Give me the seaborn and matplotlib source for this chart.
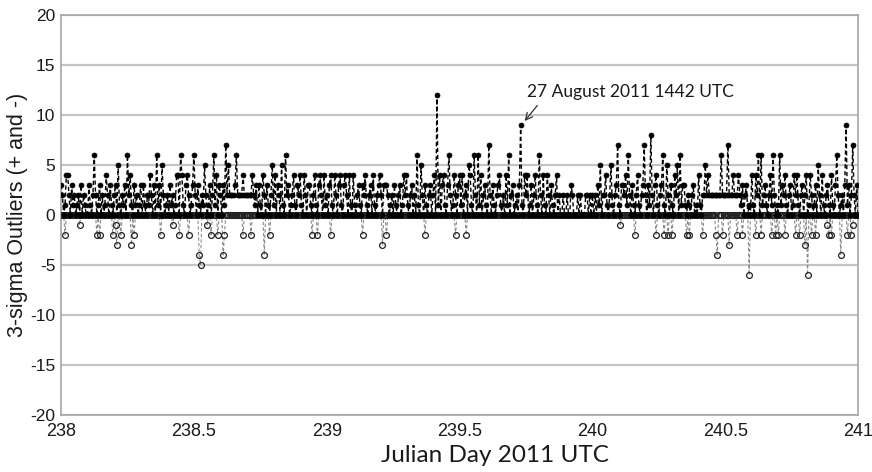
import numpy as np
import pandas as pd
import matplotlib
matplotlib.use("Agg")
import matplotlib.pyplot as plt
import seaborn as sns

# ---- data: 3-sigma outlier counts sampled every 0.005 day (238.000 .. 241.000) ----
day_start = 238.0
day_end = 241.0

pos = [
    3, 2, 0, 1, 4, 4, 2, 0, 3, 1, 2, 0, 1, 2, 0, 3, 0, 2, 1, 0,
    0, 3, 1, 0, 2, 6, 2, 0, 1, 3, 0, 2, 0, 1, 4, 2, 0, 3, 1, 0,
    2, 3, 0, 5, 1, 0, 2, 1, 3, 0, 6, 2, 4, 1, 0, 3, 1, 2, 0, 1,
    3, 0, 3, 1, 0, 2, 1, 4, 2, 0, 3, 0, 6, 1, 3, 0, 5, 2, 0, 1,
    2, 0, 3, 1, 2, 0, 1, 4, 4, 0, 6, 4, 1, 0, 3, 4, 2, 0, 1, 3,
    6, 2, 0, 3, 1, 0, 2, 1, 5, 2, 0, 1, 3, 0, 2, 6, 1, 4, 0, 3,
    2, 0, 3, 1, 7, 2, 5, 2, 2, 2, 2, 3, 6, 2, 2, 2, 2, 4, 2, 2,
    2, 2, 2, 2, 4, 2, 1, 3, 0, 3, 1, 0, 4, 2, 0, 3, 1, 0, 2, 5,
    1, 4, 0, 3, 2, 0, 5, 1, 0, 6, 2, 3, 0, 1, 2, 4, 1, 0, 3, 2,
    4, 1, 0, 4, 2, 0, 3, 3, 1, 0, 2, 4, 1, 0, 3, 4, 2, 0, 4, 1,
    2, 0, 3, 4, 1, 0, 4, 2, 0, 3, 4, 1, 0, 3, 4, 2, 0, 4, 1, 0,
    4, 1, 0, 2, 3, 1, 0, 3, 2, 4, 1, 0, 2, 3, 0, 4, 1, 0, 2, 3,
    4, 2, 0, 3, 3, 3, 2, 0, 1, 2, 0, 3, 1, 0, 2, 3, 0, 1, 4, 2,
    4, 1, 0, 2, 3, 0, 2, 0, 6, 1, 0, 5, 2, 0, 3, 1, 0, 2, 3, 0,
    2, 4, 0, 12, 1, 4, 0, 3, 4, 1, 0, 3, 6, 2, 0, 1, 4, 2, 0, 3,
    4, 1, 4, 0, 2, 3, 0, 5, 4, 1, 0, 6, 2, 0, 6, 1, 4, 0, 2, 3,
    1, 0, 7, 2, 0, 3, 1, 0, 2, 3, 4, 1, 0, 2, 0, 4, 1, 6, 0, 2,
    3, 0, 1, 2, 0, 3, 9, 1, 0, 4, 2, 4, 0, 1, 3, 0, 2, 4, 1, 0,
    6, 2, 0, 4, 1, 0, 4, 2, 0, 3, 1, 0, 2, 4, 0, 2, 0, 0, 2, 0,
    0, 2, 0, 0, 3, 2, 0, 0, 0, 2, 0, 2, 0, 0, 0, 2, 2, 0, 2, 0,
    2, 0, 2, 0, 3, 1, 5, 0, 2, 2, 4, 1, 0, 2, 5, 1, 0, 2, 3, 7,
    1, 0, 3, 3, 2, 4, 1, 6, 2, 0, 3, 1, 0, 2, 4, 1, 0, 2, 3, 7,
    2, 0, 3, 1, 8, 2, 0, 3, 4, 1, 0, 2, 3, 6, 1, 0, 5, 2, 0, 3,
    1, 0, 4, 2, 5, 0, 6, 1, 3, 3, 1, 0, 2, 1, 0, 2, 3, 0, 1, 0,
    4, 1, 0, 2, 2, 5, 2, 4, 2, 2, 2, 2, 2, 2, 2, 2, 2, 6, 2, 2,
    2, 2, 7, 2, 2, 2, 4, 2, 2, 2, 4, 2, 1, 3, 0, 2, 3, 0, 1, 0,
    4, 1, 0, 4, 2, 6, 0, 6, 1, 2, 3, 1, 0, 2, 4, 1, 6, 2, 0, 1,
    0, 6, 1, 3, 2, 4, 1, 0, 2, 3, 0, 1, 4, 2, 4, 1, 0, 2, 3, 0,
    2, 4, 0, 1, 4, 2, 0, 1, 3, 0, 5, 2, 0, 4, 1, 0, 2, 3, 1, 0,
    4, 1, 0, 3, 6, 2, 0, 1, 2, 0, 3, 9, 1, 3, 0, 2, 7, 2, 0, 3,
    0,
]

neg = [
    0, 0, 0, -2, 0, 0, 0, 0, 0, 0, 0, 0, 0, 0, -1, 0, 0, 0, 0, 0,
    0, 0, 0, 0, 0, 0, 0, -2, 0, -2, 0, 0, 0, 0, 0, 0, 0, 0, 0, -2,
    0, -1, -3, 0, 0, -2, 0, 0, 0, 0, 0, 0, 0, -3, 0, -2, 0, 0, 0, 0,
    0, 0, 0, 0, 0, 0, 0, 0, 0, 0, 0, 0, 0, 0, 0, -2, 0, 0, 0, 0,
    0, 0, 0, 0, -1, 0, 0, 0, 0, -2, 0, 0, 0, 0, 0, 0, -2, 0, 0, 0,
    0, 0, 0, 0, -4, -5, 0, 0, 0, 0, -1, 0, 0, -2, 0, 0, 0, 0, -2, 0,
    0, 0, -4, -2, 0, 0, 0, 0, 0, 0, 0, 0, 0, 0, 0, 0, 0, -2, 0, 0,
    0, 0, 0, -2, 0, 0, 0, 0, 0, 0, 0, 0, 0, -4, 0, 0, 0, -2, 0, 0,
    0, 0, 0, 0, 0, 0, 0, 0, 0, 0, 0, 0, 0, 0, 0, 0, 0, 0, 0, 0,
    0, 0, 0, 0, 0, 0, 0, 0, 0, -2, 0, 0, 0, -2, 0, 0, 0, 0, 0, 0,
    0, 0, 0, -2, 0, 0, 0, 0, 0, 0, 0, 0, 0, 0, 0, 0, 0, 0, 0, 0,
    0, 0, 0, 0, 0, 0, 0, -2, 0, 0, 0, 0, 0, 0, 0, 0, 0, 0, 0, 0,
    0, 0, -3, 0, 0, -2, 0, 0, 0, 0, 0, 0, 0, 0, 0, 0, 0, 0, 0, 0,
    0, 0, 0, 0, 0, 0, 0, 0, 0, 0, 0, 0, 0, 0, -2, 0, 0, 0, 0, 0,
    0, 0, 0, 0, 0, 0, 0, 0, 0, 0, 0, 0, 0, 0, 0, 0, 0, -2, 0, 0,
    0, 0, 0, 0, 0, -2, 0, 0, 0, 0, 0, 0, 0, 0, 0, 0, 0, 0, 0, 0,
    0, 0, 0, 0, 0, 0, 0, 0, 0, 0, 0, 0, 0, 0, 0, 0, 0, 0, 0, 0,
    0, 0, 0, 0, 0, 0, 0, 0, 0, 0, 0, 0, 0, 0, 0, 0, 0, 0, 0, 0,
    0, 0, 0, 0, 0, 0, 0, 0, 0, 0, 0, 0, 0, 0, 0, 0, 0, 0, 0, 0,
    0, 0, 0, 0, 0, 0, 0, 0, 0, 0, 0, 0, 0, 0, 0, 0, 0, 0, 0, 0,
    0, 0, 0, 0, 0, 0, 0, 0, 0, 0, 0, 0, 0, 0, 0, 0, 0, 0, 0, 0,
    0, -1, 0, 0, 0, 0, 0, 0, 0, 0, 0, 0, -2, 0, 0, 0, 0, 0, 0, 0,
    0, 0, 0, 0, 0, 0, 0, 0, -2, 0, 0, 0, 0, 0, -2, 0, 0, -2, 0, 0,
    -2, 0, 0, 0, 0, 0, 0, 0, 0, 0, 0, -2, 0, -2, 0, 0, 0, 0, 0, 0,
    0, 0, 0, -2, 0, 0, 0, 0, 0, 0, 0, 0, 0, -2, -4, 0, 0, 0, -2, 0,
    0, 0, 0, -3, 0, 0, 0, 0, 0, -2, 0, 0, 0, -2, 0, 0, 0, 0, -6, 0,
    0, 0, 0, -2, 0, 0, 0, -2, 0, 0, 0, 0, 0, 0, 0, -2, 0, 0, -2, 0,
    -2, 0, 0, 0, 0, -2, 0, 0, 0, 0, 0, 0, 0, -2, 0, 0, -2, 0, 0, 0,
    -3, 0, -6, 0, 0, -2, 0, 0, -2, 0, 0, 0, 0, 0, 0, 0, 0, -1, -2, 0,
    -2, 0, 0, 0, 0, 0, 0, -4, 0, 0, 0, 0, -2, 0, 0, -2, -1, 0, 0, 0,
    0,
]

x_ticks = [238, 238.5, 239, 239.5, 240, 240.5, 241]
y_ticks = [-20, -15, -10, -5, 0, 5, 10, 15, 20]
x_label = "Julian Day 2011 UTC"
y_label = "3-sigma Outliers (+ and -)"
note_text = "27 August 2011 1442 UTC"
note_day = 239.745
note_value = 9

day = np.linspace(day_start, day_end, len(pos))
df = pd.DataFrame({"day": day, "pos": pos, "neg": neg})

# ---- style ----
sns.set_theme(style="white")
plt.rcParams["font.family"] = ["Liberation Sans", "DejaVu Sans"]

fig = plt.figure(figsize=(8.72, 4.72), dpi=100)
ax = fig.add_axes([0.070, 0.121, 0.914, 0.847])

sns.lineplot(data=df, x="day", y="neg", ax=ax, estimator=None, sort=False,
             color="#8a8a8a", lw=0.8, linestyle=(0, (3, 2)),
             marker="o", markersize=4.2, markerfacecolor="none",
             markeredgecolor="#222222", markeredgewidth=0.9, zorder=3)
sns.lineplot(data=df, x="day", y="pos", ax=ax, estimator=None, sort=False,
             color="black", lw=1.0, linestyle=(0, (3, 2)),
             marker="o", markersize=3.6, markerfacecolor="black",
             markeredgecolor="black", markeredgewidth=0.5, zorder=4)

ax.set_xlim(day_start, day_end)
ax.set_ylim(-20, 20)
ax.set_xticks(x_ticks)
ax.set_xticklabels([f"{t:g}" for t in x_ticks], fontsize=13)
ax.set_yticks(y_ticks)
ax.set_yticklabels([str(t) for t in y_ticks], fontsize=12.5)

ax.yaxis.grid(True, color="#c4c4c4", lw=1.6)
ax.xaxis.grid(False)
for s in ax.spines.values():
    s.set_color("#a6a6a6")
    s.set_linewidth(1.2)
ax.tick_params(axis="x", direction="in", length=9, width=1, color="#a6a6a6",
               pad=6, labelcolor="#1a1a1a")
ax.tick_params(axis="y", direction="out", length=3, width=1, color="#a6a6a6",
               pad=1, labelcolor="#1a1a1a")

ax.set_ylabel(y_label, fontsize=15.5, color="#1a1a1a")
ax.yaxis.set_label_coords(-0.041, 0.5)
ax.set_xlabel(x_label, fontsize=17.5, color="#1a1a1a",
              fontfamily=["Lato", "DejaVu Sans"])
ax.xaxis.set_label_coords(0.545, -0.075)

ax.annotate(note_text, xy=(note_day, note_value + 0.4),
            xytext=(note_day + 0.01, note_value + 3.3),
            ha="left", va="center", fontsize=12.5, color="#1a1a1a",
            fontfamily=["Lato", "DejaVu Sans"],
            arrowprops=dict(arrowstyle="->", color="#333333", lw=0.9,
                            relpos=(0.07, 0.0), shrinkA=2, shrinkB=0))

fig.savefig("out.png", dpi=100)
